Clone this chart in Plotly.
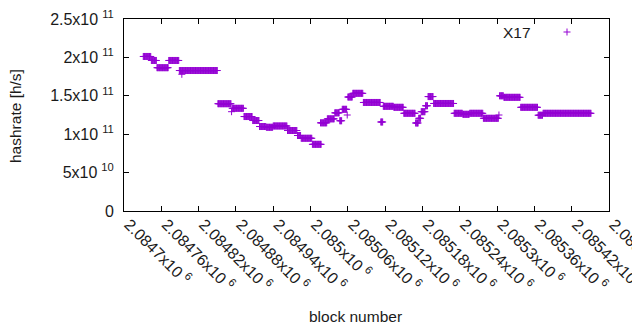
import numpy as np
import plotly.graph_objects as go

# ---- data (runs of constant hashrate per block) ----
seg_start = [2084731, 2084744, 2084753, 2084772, 2084789, 2084793, 2084851, 2084873,
             2084874, 2084893, 2084907, 2084918, 2084929, 2084940, 2084963, 2084979,
             2084985, 2085003, 2085016, 2085027, 2085039, 2085047, 2085051, 2085059,
             2085060, 2085068, 2085085, 2085113, 2085117, 2085134, 2085150, 2085169,
             2085174, 2085178, 2085185, 2085189, 2085198, 2085231, 2085245, 2085256,
             2085278, 2085303, 2085304, 2085311, 2085338, 2085366, 2085374]
seg_end = [2084743, 2084752, 2084771, 2084788, 2084850, 2084793, 2084872, 2084873,
           2084892, 2084906, 2084917, 2084928, 2084939, 2084962, 2084978, 2084984,
           2085002, 2085017, 2085026, 2085038, 2085046, 2085050, 2085058, 2085059,
           2085067, 2085084, 2085112, 2085116, 2085133, 2085149, 2085168, 2085173,
           2085177, 2085184, 2085188, 2085197, 2085230, 2085244, 2085255, 2085277,
           2085302, 2085303, 2085310, 2085337, 2085365, 2085373, 2085451]
seg_value = [2.012e11, 1.96e11, 1.866e11, 1.96e11, 1.829e11, 1.78e11, 1.397e11, 1.293e11,
             1.337e11, 1.23e11, 1.178e11, 1.10e11, 1.09e11, 1.107e11, 1.048e11, 0.983e11,
             0.947e11, 0.868e11, 1.148e11, 1.200e11, 1.278e11, 1.175e11, 1.324e11, 1.25e11,
             1.484e11, 1.532e11, 1.413e11, 1.159e11, 1.363e11, 1.35e11, 1.272e11, 1.146e11,
             1.207e11, 1.293e11, 1.37e11, 1.49e11, 1.40e11, 1.272e11, 1.259e11, 1.272e11,
             1.207e11, 1.25e11, 1.50e11, 1.48e11, 1.35e11, 1.247e11, 1.272e11]

x_tickvals = [2084700, 2084760, 2084820, 2084880, 2084940, 2085000, 2085060,
              2085120, 2085180, 2085240, 2085300, 2085360, 2085420, 2085480]
x_ticklabels = ["2.0847", "2.08476", "2.08482", "2.08488", "2.08494", "2.085", "2.08506",
                "2.08512", "2.08518", "2.08524", "2.0853", "2.08536", "2.08542", "2.08548"]
y_tickvals = [0, 5e10, 1e11, 1.5e11, 2e11, 2.5e11]
y_ticklabels = ["0", "5x10\u2005<sup>10</sup>", "1x10\u2005<sup>11</sup>",
                "1.5x10\u2005<sup>11</sup>", "2x10\u2005<sup>11</sup>",
                "2.5x10\u2005<sup>11</sup>"]
series_name = "X17"

# expand runs: one point per block inside each observed run
xs, ys = [], []
for s, e, v in zip(seg_start, seg_end, seg_value):
    blocks = np.arange(s, e + 1)
    xs.extend(blocks.tolist())
    ys.extend([v] * len(blocks))

PURPLE = "#9400D3"
FONT = "Liberation Sans, Arial, sans-serif"

# page body has an 8px margin: the plot area is placed so that on screen it
# spans x 124..609 and y 19..211
OFF = 8
L, R, T, B = 124 - OFF, 640 - (609 - OFF), 19 - OFF, 330 - (211 - OFF)
PW, PH = 609 - 124, 211 - 19


def px(xs_):
    return (xs_ - 124) / PW


def py(ys_):
    return (211 - ys_) / PH


fig = go.Figure()
fig.add_trace(go.Scatter(
    x=xs, y=ys, mode="markers", name=series_name, showlegend=False,
    marker=dict(symbol="cross-thin", size=5, color=PURPLE,
                line=dict(color=PURPLE, width=1)),
))

fig.update_layout(
    width=640, height=330,
    margin=dict(l=L, r=R, t=T, b=B),
    paper_bgcolor="white", plot_bgcolor="white",
    font=dict(family=FONT, size=15.5, color="#1a1a1a"),
    xaxis=dict(
        range=[2084700, 2085480], tickvals=x_tickvals,
        ticktext=[t + "x10\u2005<sup>6</sup>" for t in x_ticklabels],
        tickangle=45, ticks="inside", ticklen=5, tickcolor="black",
        tickfont=dict(size=16),
        ticklabeloverflow="allow", ticklabelshift=5, ticklabelstandoff=-3,
        showline=True, linecolor="black", linewidth=1, mirror="ticks",
        showgrid=False, zeroline=False, automargin=False,
    ),
    yaxis=dict(
        range=[0, 2.5e11], tickvals=y_tickvals, ticktext=y_ticklabels,
        ticks="inside", ticklen=5, tickcolor="black",
        tickfont=dict(size=16),
        ticklabeloverflow="allow", ticklabelstandoff=6,
        showline=True, linecolor="black", linewidth=1, mirror="ticks",
        showgrid=False, zeroline=False, automargin=False,
    ),
    annotations=[
        dict(text="hashrate [h/s]", xref="paper", yref="paper",
             x=px(16), y=py(116), textangle=-90,
             showarrow=False, xanchor="center", yanchor="middle"),
        dict(text="block number", xref="paper", yref="paper",
             x=px(355.5), y=py(316),
             showarrow=False, xanchor="center", yanchor="middle"),
        dict(text=series_name, xref="paper", yref="paper",
             x=px(533), y=py(32),
             showarrow=False, xanchor="right", yanchor="middle"),
    ],
    shapes=[
        dict(type="line", xref="paper", yref="paper",
             x0=px(563.5), x1=px(570.5), y0=py(32), y1=py(32),
             line=dict(color=PURPLE, width=1)),
        dict(type="line", xref="paper", yref="paper",
             x0=px(567), x1=px(567), y0=py(28.5), y1=py(35.5),
             line=dict(color=PURPLE, width=1)),
    ],
)

fig.write_html("out.html")
